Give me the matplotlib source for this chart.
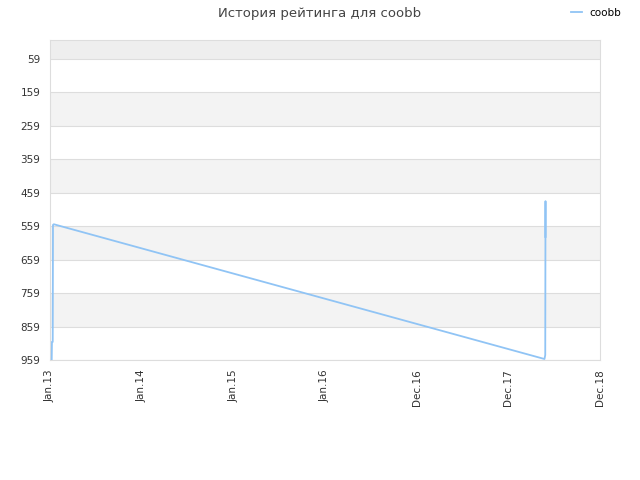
import numpy as np
import pandas as pd
import matplotlib
matplotlib.use('Agg')
import matplotlib.pyplot as plt
import matplotlib.dates as mdates

dates = pd.to_datetime(['2013-01-08', '2013-01-09', '2013-01-12', '2013-01-13', '2013-01-16',
                        '2018-04-27', '2018-04-30', '2018-05-01', '2018-05-01'])
ratings = [959, 905, 905, 555, 553, 956, 944, 484, 591]

y_ticks = [59, 159, 259, 359, 459, 559, 659, 759, 859, 959]
x_labels = ['Jan.13', 'Jan.14', 'Jan.15', 'Jan.16', 'Dec.16', 'Dec.17', 'Dec.18']
x_start = pd.Timestamp('2013-01-01')
x_end = pd.Timestamp('2018-12-01')

fig = plt.figure(figsize=(6.4, 4.8), dpi=100)
ax = fig.add_axes([0.078, 0.25, 0.8595, 0.6667])

x0, x1 = mdates.date2num(x_start), mdates.date2num(x_end)
ax.set_xlim(x0, x1)
ax.set_ylim(959, 2)

# alternating bands
bounds = [2] + y_ticks
for i in range(len(bounds) - 1):
    if i == 0:
        col = '#eeeeee'
    elif i % 2 == 0:
        col = '#f3f3f3'
    else:
        col = 'white'
    ax.axhspan(bounds[i], bounds[i + 1], color=col, zorder=0, lw=0)
for t in y_ticks:
    ax.axhline(t, color='#dddddd', lw=0.8, zorder=1)

ax.plot(mdates.date2num(dates), ratings, color='#90c4f5', lw=1.3, zorder=3, label='coobb')

ax.set_yticks(y_ticks)
ax.set_xticks(np.linspace(x0, x1, len(x_labels)))
ax.set_xticklabels(x_labels, rotation=90)
ax.tick_params(length=0, labelsize=7.5, colors='#333333', pad=7)

for s in ax.spines.values():
    s.set_color('#dddddd')

fig.suptitle('История рейтинга для coobb', x=0.5, y=0.985, fontsize=9.5, color='#444444')
fig.legend(loc='upper right', bbox_to_anchor=(0.985, 1.003), frameon=False, fontsize=7.5,
           handlelength=1.1, handletextpad=0.7)

fig.savefig('out.png', dpi=100)
